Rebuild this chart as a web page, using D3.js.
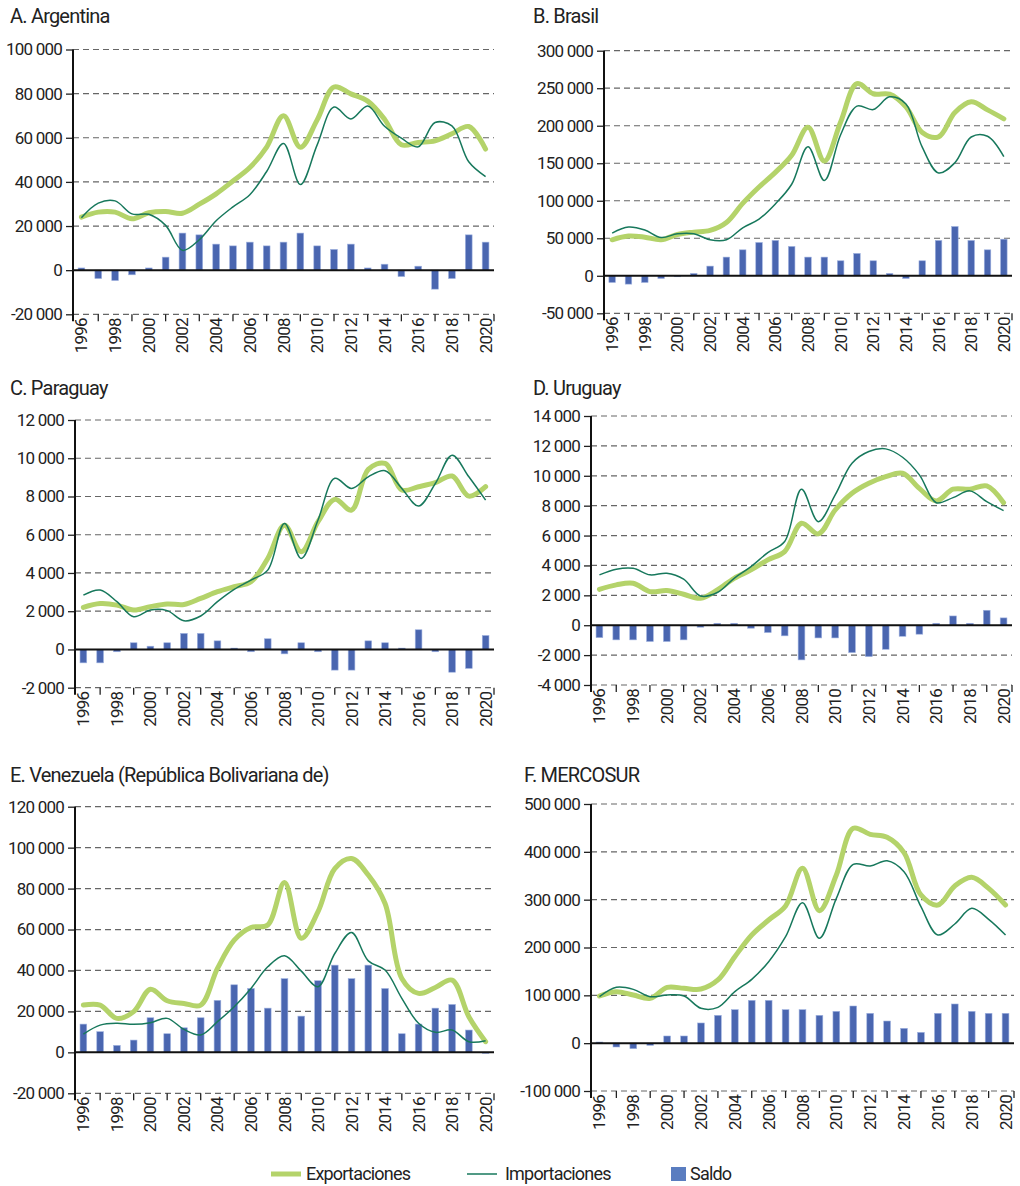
<!DOCTYPE html>
<html>
<head>
<meta charset="utf-8">
<script src="https://cdn.jsdelivr.net/npm/d3@7"></script>
<style>
  body { margin: 0; background: #fff; }
  svg text { font-family: Roboto, "Liberation Sans", sans-serif; fill: #222; letter-spacing: -0.8px; }
</style>
</head>
<body>
<svg id="chart" width="1020" height="1186"></svg>
<script>
// years
const years = d3.range(1996, 2021);

// A. Argentina
const argExp = [24000,26300,26300,23300,26000,26600,25800,29900,34600,40400,46500,55800,70000,55700,68100,83000,79900,76600,68400,56800,57900,58600,61800,65100,54900];
const argImp = [23800,30400,31400,25500,25300,20300,9000,13800,22400,28700,34200,44700,57400,38800,56800,73900,68500,74400,65200,59800,55900,66900,65400,49100,42400];
const argSal = [1000,-3800,-4700,-2100,1000,5900,16800,16000,11800,11000,12700,11000,12700,16800,11000,9400,11800,1000,2700,-2900,1800,-8600,-3800,16000,12700];
const argTicks = [-20000,0,20000,40000,60000,80000,100000];

// B. Brasil
const braExp = [48000,53000,51500,48000,55100,58200,60400,71000,96500,118300,137800,160600,197900,153000,205000,256000,242600,242000,225100,191100,185200,217700,231900,221100,209200];
const braImp = [56900,64900,61000,51000,56000,56000,48000,48000,64000,75500,95800,122000,172000,127000,188000,226200,221500,238500,229100,171400,137000,150700,185000,186000,158800];
const braSal = [-8900,-11100,-8900,-3600,-1300,3100,12900,24900,34600,44400,47100,39100,24900,24900,20000,29800,20000,3100,-3600,20000,47100,65700,47100,34600,48800];
const braTicks = [-50000,0,50000,100000,150000,200000,250000,300000];

// C. Paraguay
const parExp = [2200,2400,2320,2060,2240,2380,2350,2670,3020,3280,3540,4760,6500,5110,6680,7850,7290,9420,9730,8340,8510,8720,9070,8020,8510];
const parImp = [2840,3110,2500,1710,2060,2030,1500,1750,2500,3140,3630,4150,6590,4760,6770,8950,8420,9030,9350,8420,7500,8680,10160,9030,7810];
const parSal = [-700,-700,-120,350,170,350,840,840,450,70,-120,560,-230,350,-120,-1080,-1080,450,350,70,1030,-120,-1190,-990,730];
const parTicks = [-2000,0,2000,4000,6000,8000,10000,12000];

// D. Uruguay
const uruExp = [2400,2700,2810,2250,2320,2070,1800,2360,3140,3700,4370,4930,6820,6110,7710,8830,9500,9940,10170,9160,8320,9100,9100,9320,8200];
const uruImp = [3370,3750,3810,3370,3480,3080,1960,2190,3140,3920,4860,5600,9100,6930,8720,10840,11620,11800,11240,10060,8200,8540,8990,8270,7670];
const uruSal = [-830,-980,-980,-1090,-1090,-980,-130,130,130,-200,-490,-710,-2320,-850,-850,-1830,-2100,-1610,-740,-600,130,620,130,1000,490];
const uruTicks = [-4000,-2000,0,2000,4000,6000,8000,10000,12000,14000];

// E. Venezuela
const venExp = [23100,23100,16600,19900,30800,25200,23900,23100,41000,54800,61000,62200,83000,55700,68700,89800,94700,86600,72700,36100,28800,31700,35300,17400,5200];
const venImp = [8950,13300,14200,13700,14500,16600,11200,8500,15000,22300,31200,41800,47200,39700,32100,48300,58600,44700,40200,26400,14200,9800,10900,5200,5700];
const venSal = [13800,10100,3400,6000,16900,9100,12000,16900,25400,33000,31200,21600,36000,17700,35000,42600,36000,42600,31200,9100,13800,21600,23400,10900,-500];
const venTicks = [-20000,0,20000,40000,60000,80000,100000,120000];

// F. MERCOSUR
const merExp = [98600,107700,100700,93700,116700,114600,113200,132100,180800,226100,257500,286800,365500,277000,351600,449100,436600,430300,398300,309800,288800,328600,346700,323700,288800];
const merImp = [97200,116700,112500,97200,100700,98600,72800,74900,107700,133400,170400,222600,293700,219200,302700,373800,370300,381400,358500,285400,226100,249100,281900,258900,226100];
const merSal = [2400,-8000,-11500,-4500,15000,15000,42200,58200,70000,89500,89500,70000,70000,58200,66500,77700,62400,46300,31000,22600,62400,81900,66500,62400,62400];
const merTicks = [-100000,0,100000,200000,300000,400000,500000];

const panels = [
  {title: "A. Argentina", exp: argExp, imp: argImp, sal: argSal, ticks: argTicks, left: 73, right: 494, top: 49.5, bottom: 314.3, tx: 10, ty: 23},
  {title: "B. Brasil", exp: braExp, imp: braImp, sal: braSal, ticks: braTicks, left: 604, right: 1012, top: 50.7, bottom: 313.3, tx: 533, ty: 23},
  {title: "C. Paraguay", exp: parExp, imp: parImp, sal: parSal, ticks: parTicks, left: 75, right: 494, top: 420, bottom: 687.7, tx: 10, ty: 395},
  {title: "D. Uruguay", exp: uruExp, imp: uruImp, sal: uruSal, ticks: uruTicks, left: 591, right: 1012, top: 416, bottom: 685, tx: 533, ty: 395},
  {title: "E. Venezuela (República Bolivariana de)", exp: venExp, imp: venImp, sal: venSal, ticks: venTicks, left: 75, right: 494, top: 806.7, bottom: 1093.3, tx: 10, ty: 782},
  {title: "F. MERCOSUR", exp: merExp, imp: merImp, sal: merSal, ticks: merTicks, left: 591, right: 1014, top: 804, bottom: 1091, tx: 524, ty: 782}
];

const expColor = "#b4d36a", impColor = "#17785c", barColor = "#4a66b0";

const loc = d3.formatLocale({decimal: ",", thousands: " ", grouping: [3], currency: ["", ""], minus: "-"});
const fmt = loc.format(",");

const svg = d3.select("#chart");

panels.forEach(function(p) {
  const g = svg.append("g");

  const x = d3.scaleBand().domain(years).range([p.left, p.right]);
  const y = d3.scaleLinear().domain(d3.extent(p.ticks)).range([p.bottom, p.top]);

  // titulo
  g.append("text")
    .attr("x", p.tx).attr("y", p.ty)
    .style("font-size", "20px")
    .text(p.title);

  // griglia tratteggiata
  g.selectAll(".grid")
    .data(p.ticks.filter(d => d !== 0))
    .enter().append("line")
    .attr("x1", p.left).attr("x2", p.right)
    .attr("y1", d => y(d)).attr("y2", d => y(d))
    .attr("stroke", "#666")
    .attr("stroke-width", 1.2)
    .attr("stroke-dasharray", "6,4");

  // asse y
  const yAxis = d3.axisLeft(y).tickValues(p.ticks).tickSize(7).tickPadding(4).tickFormat(fmt);
  const ya = g.append("g").attr("transform", "translate(" + p.left + ",0)").call(yAxis);
  ya.select(".domain").remove();
  ya.selectAll("line").attr("stroke", "#222").attr("stroke-width", 1.3);
  ya.selectAll("text").style("font-size", "17px").attr("fill", "#222").style("font-family", "Roboto, sans-serif");

  // barre saldo
  const bw = x.bandwidth() * 0.4;
  g.selectAll(".bar")
    .data(years.map((yr, i) => ({yr: yr, v: p.sal[i]})))
    .enter().append("rect")
    .attr("x", d => x(d.yr) + (x.bandwidth() - bw) / 2)
    .attr("y", d => y(Math.max(0, d.v)))
    .attr("width", bw)
    .attr("height", d => Math.abs(y(d.v) - y(0)))
    .attr("fill", barColor)
    .attr("stroke", "#9fb2e0")
    .attr("stroke-width", 0.6);

  // linea dello zero
  g.append("line")
    .attr("x1", p.left).attr("x2", p.right)
    .attr("y1", y(0)).attr("y2", y(0))
    .attr("stroke", "#111").attr("stroke-width", 2);

  const line = d3.line()
    .x((d, i) => x(years[i]) + x.bandwidth() / 2)
    .y(d => y(d))
    .curve(d3.curveCatmullRom);

  g.append("path").attr("d", line(p.exp))
    .attr("fill", "none").attr("stroke", expColor)
    .attr("stroke-width", 5).attr("stroke-linejoin", "round").attr("stroke-linecap", "round");

  g.append("path").attr("d", line(p.imp))
    .attr("fill", "none").attr("stroke", impColor)
    .attr("stroke-width", 1.5);

  // asse verticale
  g.append("line")
    .attr("x1", p.left).attr("x2", p.left)
    .attr("y1", p.top).attr("y2", p.bottom + 7)
    .attr("stroke", "#111").attr("stroke-width", 2);

  // tacche anni dispari
  const tickYears = years.filter(d => d % 2 === 1);
  g.selectAll(".xtick")
    .data(tickYears)
    .enter().append("line")
    .attr("x1", d => x(d) + x.bandwidth() / 2).attr("x2", d => x(d) + x.bandwidth() / 2)
    .attr("y1", p.bottom).attr("y2", p.bottom + 7)
    .attr("stroke", "#222").attr("stroke-width", 1.3);
  g.append("line")
    .attr("x1", p.right).attr("x2", p.right)
    .attr("y1", p.bottom).attr("y2", p.bottom + 7)
    .attr("stroke", "#222").attr("stroke-width", 1.3);

  // etichette anni
  g.selectAll(".xlab")
    .data(years.filter(d => d % 2 === 0))
    .enter().append("text")
    .attr("transform", d => "translate(" + (x(d) + x.bandwidth() / 2 + 6) + "," + (p.bottom + 4) + ") rotate(-90)")
    .attr("text-anchor", "end")
    .style("font-size", "17px")
    .text(d => d);
});

// legenda
const legend = svg.append("g");
legend.append("line").attr("x1", 271).attr("x2", 301).attr("y1", 1174).attr("y2", 1174)
  .attr("stroke", expColor).attr("stroke-width", 5);
legend.append("text").attr("x", 306).attr("y", 1180).style("font-size", "18px").text("Exportaciones");
legend.append("line").attr("x1", 467).attr("x2", 497).attr("y1", 1174).attr("y2", 1174)
  .attr("stroke", impColor).attr("stroke-width", 1.5);
legend.append("text").attr("x", 505).attr("y", 1180).style("font-size", "18px").text("Importaciones");
legend.append("rect").attr("x", 671).attr("y", 1167).attr("width", 15).attr("height", 14)
  .attr("fill", "#5a7dc0");
legend.append("text").attr("x", 690).attr("y", 1180).style("font-size", "18px").text("Saldo");
</script>
</body>
</html>
